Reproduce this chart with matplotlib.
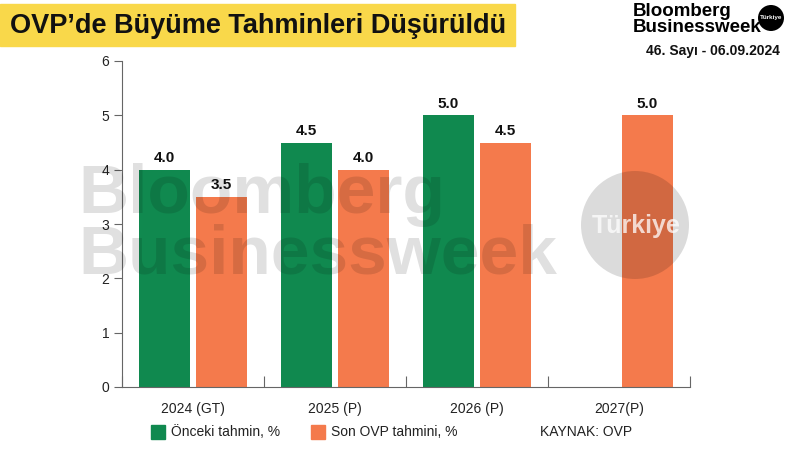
import matplotlib
matplotlib.use("Agg")
import matplotlib.pyplot as plt
import numpy as np
from matplotlib.patches import Rectangle, Circle

plt.rcParams['font.family'] = ['Liberation Sans', 'DejaVu Sans']

categories = ["2024 (GT)", "2025 (P)", "2026 (P)", "2027(P)"]
previous = [4.0, 4.5, 5.0, None]
latest = [3.5, 4.0, 4.5, 5.0]
yticks = [0, 1, 2, 3, 4, 5, 6]

GREEN = "#10894f"
ORANGE = "#f47a4c"
TXT = "#222222"

fig = plt.figure(figsize=(8, 4.5), dpi=100)
ax = fig.add_axes([122/800, 1-387/450, (690-122)/800, (387-61)/450])

x = np.arange(len(categories))
w = 0.36
off = 0.2
for i in range(len(categories)):
    if previous[i] is not None:
        ax.bar(x[i]-off, previous[i], w, color=GREEN, zorder=2)
        ax.text(x[i]-off, previous[i]+0.08, f"{previous[i]:.1f}", ha='center', va='bottom',
                fontsize=11, fontweight='bold', color='#111111')
    ax.bar(x[i]+off, latest[i], w, color=ORANGE, zorder=2)
    ax.text(x[i]+off, latest[i]+0.08, f"{latest[i]:.1f}", ha='center', va='bottom',
            fontsize=11, fontweight='bold', color='#111111')

ax.set_xlim(-0.5, len(categories)-0.5)
ax.set_ylim(0, 6)
ax.set_yticks(yticks)
ax.set_yticklabels([str(t) for t in yticks], fontsize=10, color=TXT)
ax.set_xticks(np.arange(len(categories)+1)-0.5)
ax.set_xticklabels([])
ax.tick_params(axis='x', direction='in', length=8, color='#666666', width=0.8)
ax.tick_params(axis='y', direction='out', length=6, color='#666666', width=0.8, pad=3)
for i, c in enumerate(categories):
    ax.text(x[i], -0.28, c, ha='center', va='top', fontsize=10, color=TXT,
            transform=ax.transData)
for s in ['top', 'right']:
    ax.spines[s].set_visible(False)
for s in ['left', 'bottom']:
    ax.spines[s].set_color('#666666')
    ax.spines[s].set_linewidth(0.8)

# watermark
wm = dict(fontsize=50, fontweight='bold', color='black', alpha=0.12, zorder=10)
fig.text(78/800, 1-195/450, "Bloomberg", ha='left', va='center', **wm)
fig.text(78/800, 1-255/450, "Businessweek", ha='left', va='center', **wm)
circ = Circle((635, 450-225), 54, transform=None, facecolor='black', edgecolor='none',
              linewidth=0, alpha=0.14, zorder=10)
fig.patches.append(circ)
fig.text(636/800, 1-226/450, "Türkiye", ha='center', va='center', fontsize=18,
         fontweight='bold', color='white', alpha=0.75, zorder=11)

# title box
fig.patches.append(Rectangle((0, 1-46/450), 515/800, 42/450, transform=fig.transFigure,
                             color='#f9d84a', zorder=0))
fig.text(10/800, 1-26/450, "OVP’de Büyüme Tahminleri Düşürüldü", ha='left', va='center',
         fontsize=19.5, fontweight='bold', color='#111111')

# logo
fig.text(633/800, 1-12/450, "Bloomberg", ha='left', va='center', fontsize=13.5,
         fontweight='bold', color='black')
fig.text(633/800, 1-27/450, "Businessweek", ha='left', va='center', fontsize=13.5,
         fontweight='bold', color='black')
fig.patches.append(Circle((771, 450-18), 13, transform=None, facecolor='black', edgecolor='none'))
fig.text(771/800, 1-18/450, "Türkiye", ha='center', va='center', fontsize=4.5,
         fontweight='bold', color='white')
fig.text(780/800, 1-51/450, "46. Sayı - 06.09.2024", ha='right', va='center', fontsize=10,
         fontweight='bold', color='#111111')

# legend
fig.patches.append(Rectangle((151/800, 1-439/450), 14/800, 14/450, transform=fig.transFigure, color=GREEN))
fig.text(171/800, 1-432/450, "Önceki tahmin, %", ha='left', va='center', fontsize=10, color=TXT)
fig.patches.append(Rectangle((311/800, 1-439/450), 14/800, 14/450, transform=fig.transFigure, color=ORANGE))
fig.text(331/800, 1-432/450, "Son OVP tahmini, %", ha='left', va='center', fontsize=10, color=TXT)
fig.text(540/800, 1-432/450, "KAYNAK: OVP", ha='left', va='center', fontsize=10, color=TXT)

fig.savefig("out.png", dpi=100)
